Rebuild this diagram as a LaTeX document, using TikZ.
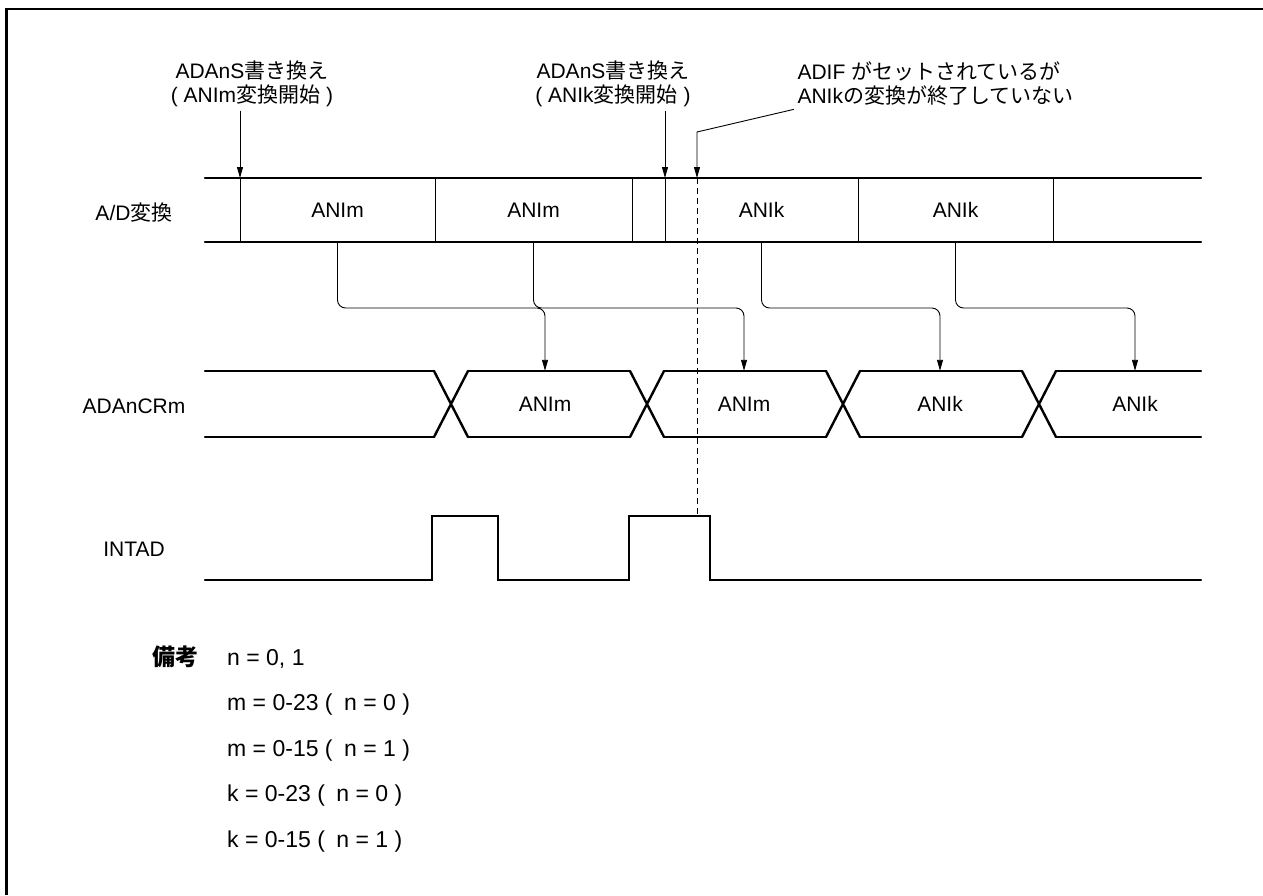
\documentclass[tikz,border=0pt]{standalone}
\usepackage{fontspec}
\setmainfont{Liberation Sans}
\newfontfamily\jp{Noto Sans CJK JP}
\usetikzlibrary{arrows.meta,positioning}
\newcommand\kakko[1]{(\hspace{0.5em}#1 )}

\begin{document}
\begin{tikzpicture}[x=1pt,y=-1pt,font=\fontsize{21}{24}\selectfont,
    sig/.style={line width=2.4pt,line cap=round},
    fine/.style={line width=0.9pt},
    arr/.style={fine,-{Triangle[length=11pt,width=6pt]}},
    cellad/.style={minimum height=64pt,inner sep=0pt},
    cellcr/.style={minimum height=66pt,inner sep=0pt},
    note/.style={font=\fontsize{23}{26}\selectfont,anchor=base west,inner sep=0pt}]
  \useasboundingbox (0,0) rectangle (1263,895);
  \draw[line width=2.2pt] (6.5,895) -- (6.5,9) -- (1263,9);

  % row names
  \node[anchor=base] (nad) at (134,220) {A/D{\jp 変換}};
  \node[anchor=base] (ncr) at (134,413) {ADAnCRm};
  \node[anchor=base] (nint) at (134,556) {INTAD};

  % A/D conversion
  \draw[sig] (205,178) -- (1201,178) (205,242) -- (1201,242);
  \foreach \x in {240,435,632,665,858,1053}
    \draw[fine] (\x,178) -- (\x,242);
  \node[cellad] (ad1) at (337.5,210) {ANIm};
  \node[cellad] (ad2) at (533.5,210) {ANIm};
  \node[cellad] (ad3) at (761.5,210) {ANIk};
  \node[cellad] (ad4) at (955.5,210) {ANIk};

  % ADAnCRm
  \foreach \a/\b in {205/434,468/630,664/826,860/1022,1056/1201}
    \draw[sig] (\a,371) -- (\b,371) (\a,437) -- (\b,437);
  \foreach \c in {451,647,843,1039}
    \draw[sig] (\c-17,371) -- (\c+17,437) (\c-17,437) -- (\c+17,371);
  \node[cellcr] (cr1) at (545,404) {ANIm};
  \node[cellcr] (cr2) at (744,404) {ANIm};
  \node[cellcr] (cr3) at (940,404) {ANIk};
  \node[cellcr] (cr4) at (1135,404) {ANIk};

  % result transfer
  \coordinate (hy) at (0,308);
  \foreach \i in {1,...,4}
    \draw[arr,rounded corners=8pt] (ad\i.south) |- (cr\i |- hy) -- (cr\i.north);

  % INTAD
  \draw[sig] (205,580) -| (432,516) -| (498,580) -| (629,516) -| (710,580) -- (1201,580);

  % annotations
  \coordinate (ks1) at (240,178);
  \coordinate (ks2) at (665,178);
  \coordinate (kd) at (697,178);
  \coordinate (kn) at (697,132);
  \coordinate (ke) at (697,516);
  \node[align=center] (wr1) at (252,84) {ADAnS{\jp 書き換え}\\( ANIm{\jp 変換開始} )};
  \node[align=center] (wr2) at (613,84) {ADAnS{\jp 書き換え}\\( ANIk{\jp 変換開始} )};
  \node[align=left,anchor=west] (nt) at (794,84)
    {ADIF {\jp がセットされているが}\\ANIk{\jp の変換が終了していない}};
  \draw[arr] (wr1.south -| ks1) -- (ks1);
  \draw[arr] (wr2.south -| ks2) -- (ks2);
  \draw[arr] (nt.south west) -- (kn) -- (kd);
  \draw[fine,dash pattern=on 6pt off 4pt] (kd) -- (ke);

  % remarks
  \node[note,font=\fontsize{23}{26}\selectfont\jp\bfseries] (bk) at (152,665) {備考};
  \foreach \t [count=\i] in {{n = 0, 1},m = 0-23 \kakko{n = 0},m = 0-15 \kakko{n = 1},
                             k = 0-23 \kakko{n = 0},k = 0-15 \kakko{n = 1}}
    \node[note] (nb\i) at (227,{619.5+45.5*\i}) {\t};
\end{tikzpicture}
\end{document}
